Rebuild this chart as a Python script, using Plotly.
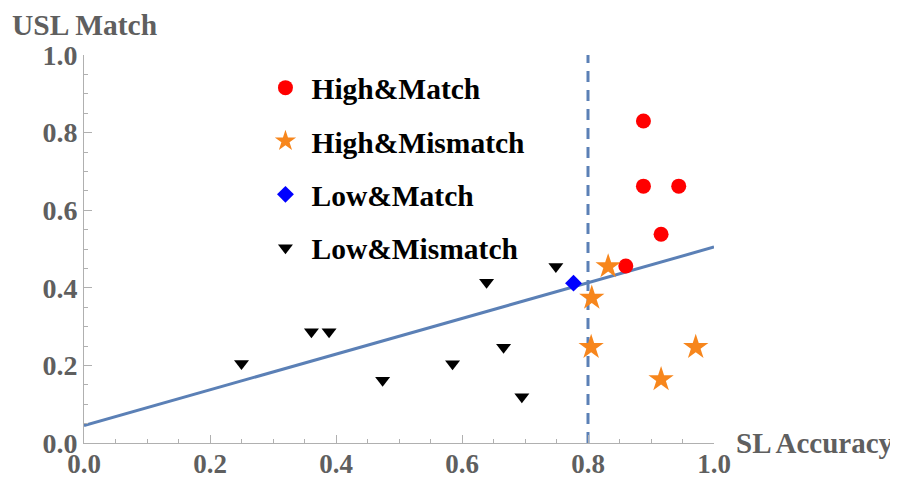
import plotly.graph_objects as go

# Data
high_match_x = [0.888, 0.888, 0.944, 0.916, 0.860]
high_match_y = [0.830, 0.662, 0.662, 0.538, 0.456]

high_mismatch_x = [0.832, 0.806, 0.805, 0.971, 0.916]
high_mismatch_y = [0.455, 0.374, 0.247, 0.247, 0.164]

low_match_x = [0.777]
low_match_y = [0.412]

low_mismatch_x = [0.250, 0.361, 0.389, 0.474, 0.585, 0.639, 0.666, 0.695, 0.749]
low_mismatch_y = [0.205, 0.287, 0.287, 0.162, 0.204, 0.414, 0.247, 0.119, 0.455]

fit_x = [0.0, 1.0]
fit_y = [0.045, 0.505]

threshold_x = [0.8, 0.8]
threshold_y = [0.0, 1.0]

x_title = "SL Accuracy"
y_title = "USL Match"

SERIF = "Liberation Serif"
LINE_BLUE = "#5b80b6"
AXIS_GRAY = "#b0b0b0"
TEXT_GRAY = "#5f5f5f"

fig = go.Figure()

fig.add_trace(go.Scatter(x=fit_x, y=fit_y, mode="lines", showlegend=False,
                         line=dict(color=LINE_BLUE, width=3), hoverinfo="skip"))
fig.add_trace(go.Scatter(x=threshold_x, y=threshold_y, mode="lines", showlegend=False,
                         line=dict(color=LINE_BLUE, width=3, dash="11px,8px"), hoverinfo="skip"))

fig.add_trace(go.Scatter(x=high_match_x, y=high_match_y, mode="markers", name="High&Match",
                         legendgroup="a",
                         marker=dict(symbol="circle", color="#ff0000", size=15)))
fig.add_trace(go.Scatter(x=high_mismatch_x, y=high_mismatch_y, mode="markers", name="High&Mismatch",
                         legendgroup="b",
                         marker=dict(symbol="star", color="#f7861c", size=19)))
fig.add_trace(go.Scatter(x=low_match_x, y=low_match_y, mode="markers", name="Low&Match",
                         legendgroup="c",
                         marker=dict(symbol="diamond", color="#0000ff", size=13)))
fig.add_trace(go.Scatter(x=low_mismatch_x, y=low_mismatch_y, mode="markers", name="Low&Mismatch",
                         legendgroup="d",
                         marker=dict(symbol="triangle-down", color="#000000", size=13)))

axis_common = dict(
    range=[0, 1], dtick=0.2, tickformat=".1f",
    showgrid=False, zeroline=False, automargin=False,
    showline=True, linecolor=AXIS_GRAY, linewidth=1,
    ticks="inside", ticklen=8, tickcolor=AXIS_GRAY, tickwidth=1,
    minor=dict(dtick=0.05, ticks="inside", ticklen=4, tickcolor=AXIS_GRAY, showgrid=False),
)

fig.update_layout(
    width=890, height=473,
    margin=dict(l=76, r=184, t=47, b=38),
    paper_bgcolor="white", plot_bgcolor="white",
    xaxis=dict(**axis_common, ticklabelstandoff=-3,
               tickfont=dict(family=SERIF, size=27, color=TEXT_GRAY, weight="bold")),
    yaxis=dict(**axis_common,
               tickfont=dict(family=SERIF, size=28, color=TEXT_GRAY, weight="bold")),
    font=dict(family=SERIF),
    legend=dict(
        x=0.2785, y=0.982, xanchor="left", yanchor="top",
        bgcolor="rgba(0,0,0,0)", traceorder="grouped", tracegroupgap=12,
        itemwidth=42,
        font=dict(family=SERIF, size=29.5, color="black", weight="bold"),
    ),
    annotations=[
        dict(text=y_title, xref="paper", yref="paper", x=-0.1175, y=1.0773,
             xanchor="left", yanchor="middle", showarrow=False,
             font=dict(family=SERIF, size=29.5, color=TEXT_GRAY, weight="bold")),
        dict(text=x_title, xref="paper", yref="paper", x=1.032, y=0.0,
             xanchor="left", yanchor="middle", showarrow=False,
             font=dict(family=SERIF, size=29, color=TEXT_GRAY, weight="bold")),
    ],
)

fig.write_html("out.html")
